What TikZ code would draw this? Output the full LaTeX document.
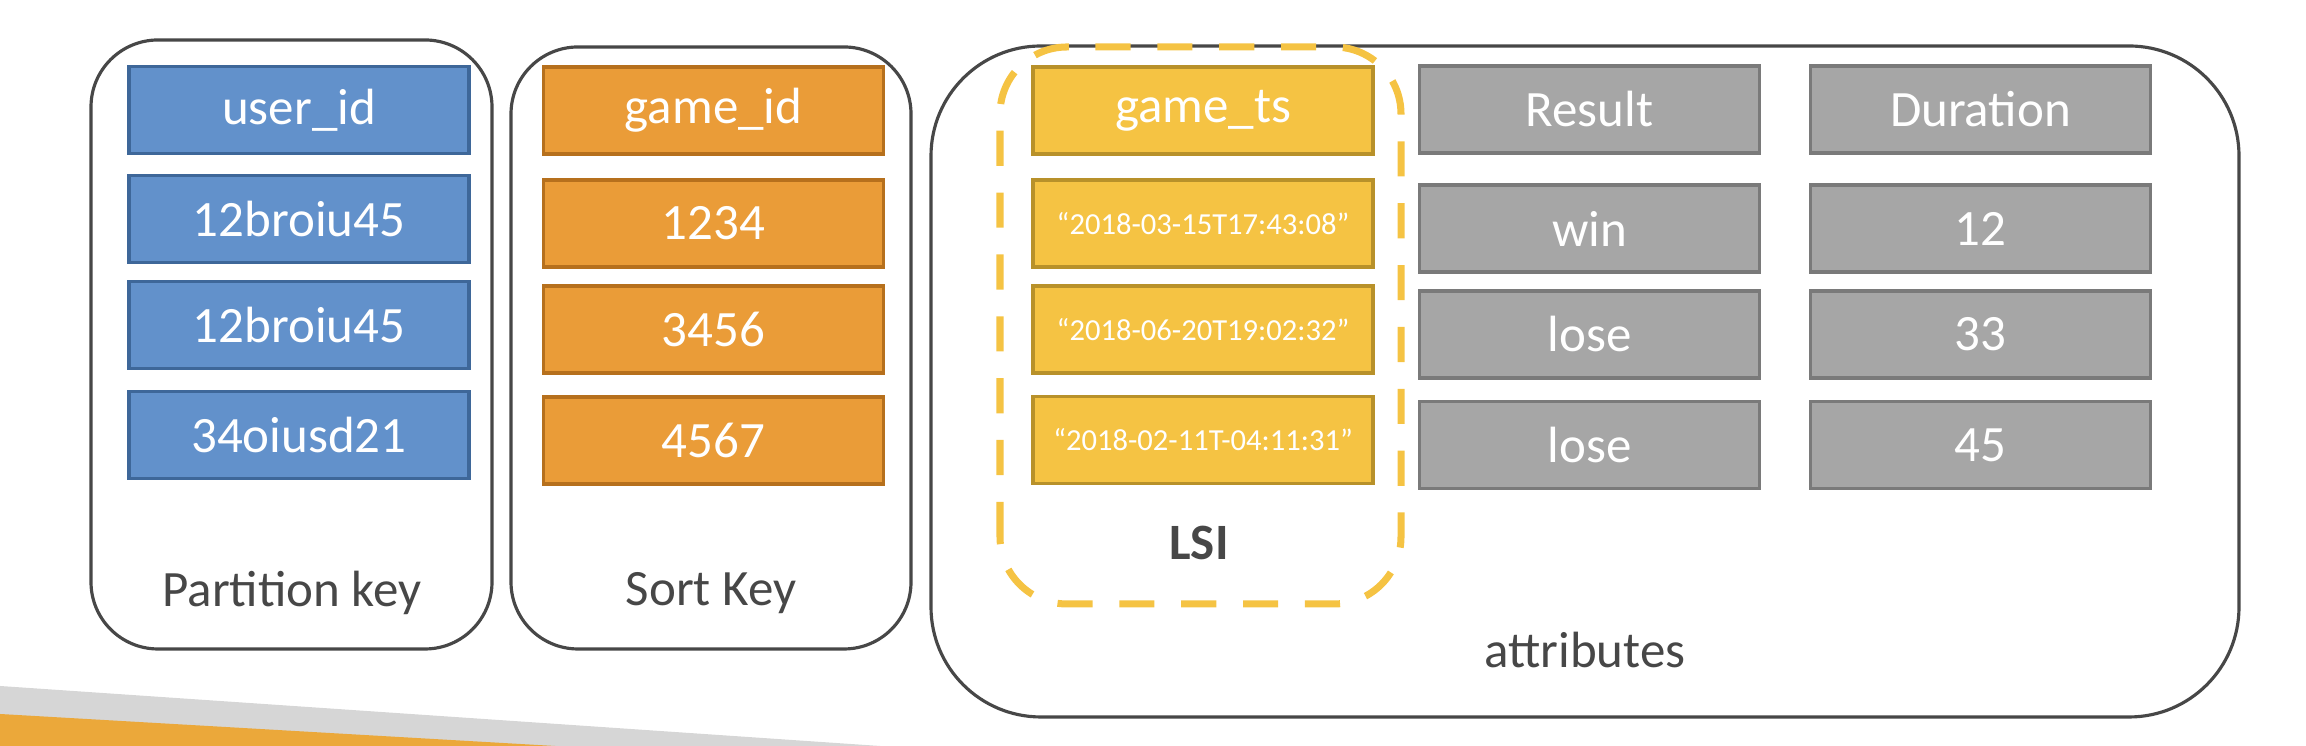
\documentclass[tikz,border=0pt]{standalone}
\usepackage{fontspec}
\setmainfont{Carlito}
\usepackage{tikz}
\usetikzlibrary{calc}
\definecolor{pkblue}{HTML}{6291CB}
\definecolor{pkblueline}{HTML}{3E6799}
\definecolor{skorange}{HTML}{EA9C38}
\definecolor{skorangeline}{HTML}{B6701D}
\definecolor{lsiyellow}{HTML}{F5C343}
\definecolor{lsiyellowline}{HTML}{B8912A}
\definecolor{attrgray}{HTML}{A6A6A6}
\definecolor{attrgrayline}{HTML}{7A7A7A}
\definecolor{frameline}{HTML}{474747}
\definecolor{bandgray}{HTML}{D6D6D6}
\definecolor{bandorange}{HTML}{EBA83A}
\newcommand{\bigtxt}{\fontsize{14.5}{17}\selectfont}
\newcommand{\smalltxt}{\fontsize{8.7}{11}\selectfont}

\begin{document}
\begin{tikzpicture}[
	cell/.style={minimum width=3.4cm,minimum height=0.87cm,inner sep=0pt,line width=0.9pt,text=white,font=\bigtxt},
	pkcell/.style={cell,fill=pkblue,draw=pkblueline},
	skcell/.style={cell,fill=skorange,draw=skorangeline},
	tscell/.style={cell,fill=lsiyellow,draw=lsiyellowline},
	atcell/.style={cell,fill=attrgray,draw=attrgrayline},
	frame/.style={draw=frameline,line width=0.9pt},
	caption/.style={text=frameline,font=\bigtxt}]
					\useasboundingbox (0,0) rectangle (23.06,7.46);
					%BANDS
					\fill[bandgray] (0,0.60) -- (8.80,0) -- (0,0) -- cycle;
					\fill[bandorange] (0,0.32) -- (5.55,0) -- (0,0) -- cycle;
					%FRAMES
					\draw[frame,rounded corners=0.67cm] (0.91,0.97) rectangle (4.92,7.06);
					\draw[frame,rounded corners=0.67cm] (5.11,0.97) rectangle (9.11,6.99);
					\draw[frame,rounded corners=1.1cm] (9.31,0.29) rectangle (22.39,7.00);
					\draw[lsiyellow,line width=2pt,dash pattern=on 10pt off 7.6pt,rounded corners=0.67cm] (10.00,1.42) rectangle (14.01,6.99);
					%PARTITION KEY
					\node[pkcell](pk0) at (2.99,6.36) {user\_id};
					\node[pkcell](pk1) at (2.99,5.27) {12broiu45};
					\node[pkcell](pk2) at (2.99,4.21) {12broiu45};
					\node[pkcell](pk3) at (2.99,3.11) {34oiusd21};
					\node[caption](pklabel) at (2.92,1.53) {Partition key};
					%SORT KEY
					\node[skcell](sk0) at (7.135,6.355) {game\_id};
					\node[skcell](sk1) at (7.135,5.225) {1234};
					\node[skcell](sk2) at (7.135,4.165) {3456};
					\node[skcell](sk3) at (7.135,3.055) {4567};
					\node[caption](sklabel) at (7.11,1.53) {Sort Key};
					%LSI
					\node[tscell](ts0) at (12.03,6.355) {game\_ts};
					\node[tscell,font=\smalltxt](ts1) at (12.03,5.225) {“2018-03-15T17:43:08”};
					\node[tscell,font=\smalltxt](ts2) at (12.03,4.165) {“2018-06-20T19:02:32”};
					\node[tscell,font=\smalltxt](ts3) at (12.03,3.06) {“2018-02-11T-04:11:31”};
					\node[caption,font=\bigtxt\bfseries](lsilabel) at (11.99,2.03) {LSI};
					%ATTRIBUTES
					\node[atcell](res0) at (15.895,6.365) {Result};
					\node[atcell](res1) at (15.895,5.175) {win};
					\node[atcell](res2) at (15.895,4.115) {lose};
					\node[atcell](res3) at (15.895,3.01) {lose};
					\node[atcell](dur0) at (19.805,6.365) {Duration};
					\node[atcell](dur1) at (19.805,5.175) {12};
					\node[atcell](dur2) at (19.805,4.115) {33};
					\node[atcell](dur3) at (19.805,3.01) {45};
					\node[caption](attrlabel) at (15.85,0.96) {attributes};
\end{tikzpicture}
\end{document}
